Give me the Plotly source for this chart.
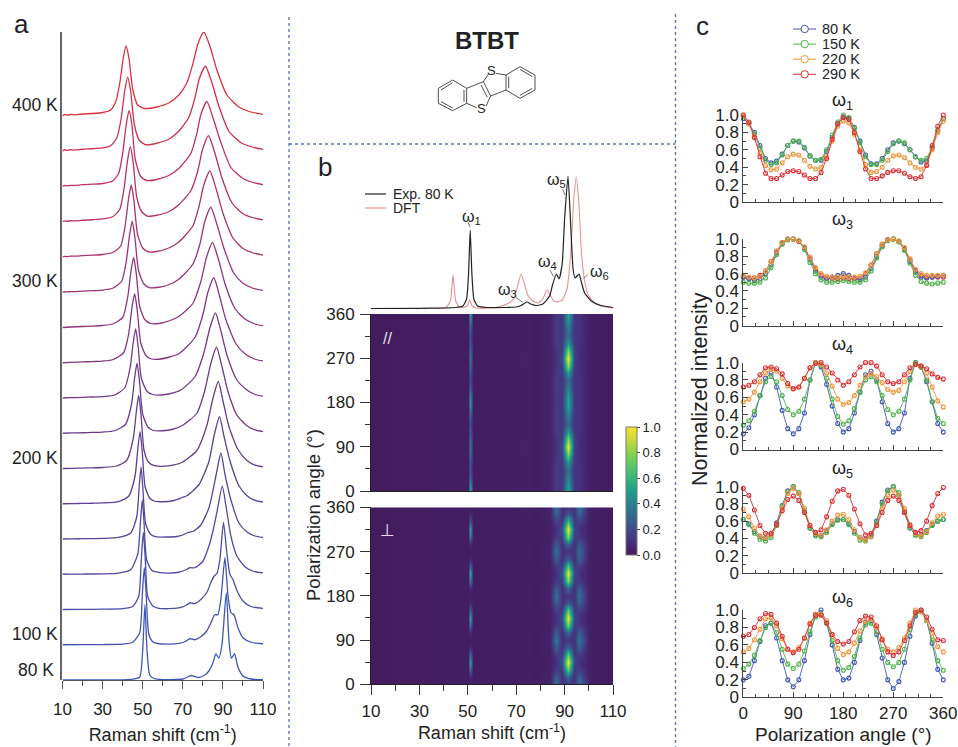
import plotly.graph_objects as go

W, H = 958, 747
FONT = "Liberation Sans"
INK = "#222222"

# ---------------- panel a: Raman spectra, temperature series (height above baseline) ----------------
TEMPS = [80, 100, 120, 140, 160, 180, 200, 220, 240, 260, 280, 300, 320, 340, 360, 380, 400]
OFFSET_STEP = 35.25
SPEC_X = {
 80: [10,20,30,40,45,48.5,50,51.1,52.2,53.5,55.5,60,66,70,72,74,76,78,81,83,85,86.5,88,89.5,91.7,93,94.2,95.8,97.5,100,104,110],
 100: [10,20,30,40,45,48.5,49.8,50.8,51.8,53,55,58,63,68,71,73.5,76,79,82,84,86,87.5,89,91,92.5,94,95.5,97.5,100,104,110],
 120: [10,20,30,40,45,48,49.3,50.3,51.3,52.5,55,58,63,68,71,73.5,76,79,82,84,85.5,87,88.5,90.3,92,93.5,95,97,100,104,110],
 140: [10,15,20,30,38,44,47.5,49,49.8,50.6,52,54.5,58,63,68,71,73.5,76,80,83,85,87,89.7,91.7,94,97,101,105,110],
 160: [10,15,20,30,38,44,47,48.4,49.2,50,51.5,54,57,62,67,70,72.5,75,79,83,85,87,89,91,94,98,102,106,110],
 180: [10,15,20,25,30,38,43,46.2,47.7,48.7,49.7,51.2,53.5,56,60,65,70,72,78,83,85.7,88.3,90.5,93.5,98,102,106,110],
 200: [10,15,20,25,30,37,42,45.3,46.9,48,49.1,50.7,53,56,60,65,70,77,82,85,87.7,90,93,97.5,102,106,110],
 220: [10,15,20,25,30,36,41.5,44.5,46,47.2,48.4,50,52.5,55,60,65,70,77,81,84,86.8,89.5,92.5,97,102,106,110],
 240: [10,14,20,25,30,36,41,43.7,45.3,46.5,47.7,49.3,52,55,59,64,69,76,80.5,83.5,86.3,89,92,97,102,106,110],
 260: [10,14,20,25,30,35,40.5,43,44.7,46,47.3,49,51.5,54,58,63,68,76,80,82.6,85.5,88.3,91.5,96.5,101,106,110],
 280: [10,14,20,25,30,35,40,42.5,44.2,45.5,46.8,48.5,51,54,58,63,68,75,79,81.8,84.8,87.8,91,96,101,106,110],
 300: [10,11,12,14,16,20,25,30,35,39.5,41.8,43.5,44.8,46.1,47.9,50.5,53.5,58,63,68,75,78.5,81,84,87,90.5,95.5,100,105,110],
 320: [10,11,12,14,16,20,25,30,35,39,41.3,43,44.3,45.6,47.4,50,53,57,63,68,75,78,80.5,83.5,86.5,90,95,100,105,110],
 340: [10,11,12,14,16,20,25,30,35,38.5,40.7,42.4,43.8,45.2,47,49.5,52.5,57,63,68,74,77.5,79.8,82.8,85.8,89.5,94.5,100,105,110],
 360: [10,11,12,14,16,20,25,30,35,38,40,41.8,43.2,44.6,46.3,49,52,57,63,68,74,77,79,82,85,89,94,100,105,110],
 380: [10,11,12,14,16,20,25,30,34,37,39.2,41,42.5,44,45.8,48.3,51.5,57,63,68,73,76,78.3,81.3,84.3,88,93,99,105,110],
 400: [10,11,12,14,16,20,25,30,34,36.5,38.5,40.3,41.7,43.2,45,47.5,51,57,63,68,72,75,77.5,80.5,83.5,87,92,98,104,110],
}
SPEC_Y = {
 80: [0,0,0,0.2,0.8,3,30,75,28,5,1.5,0.4,0.5,1,2.5,4.5,3.5,2.5,5,9,17,26,22,35,87,40,22,26,13,4,1,0.3],
 100: [0,0.1,0.2,0.6,2.5,12,50,77,48,11,3,1,0.7,1.3,3,6,5,8,14,22,30,30,46,87,50,32,30,17,7,2.5,1],
 120: [0,0.1,0.3,0.8,3,13,50,77,50,13,3.5,1.2,0.8,1.6,3.5,6.5,6,10,17,27,33,36,50,87,56,35,30,19,8.5,3,1.1],
 140: [0,0.1,0.2,0.4,1.2,4.5,20,56,74,54,14,4,1.8,1.2,2,4,6.5,6.5,13,28,43,62,88,66,38,18,7.5,3,1.3],
 160: [0,0.2,0.3,0.6,1.6,6,22,56,72,53,15,4.5,2.2,2,2.5,4,6.5,7.5,14,31,48,68,86,65,39,16,7,3,1.5],
 180: [0,0.2,0.3,0.5,0.8,2.2,7.5,28,58,72,54,17,5.5,2.5,2,3,6.5,8,19,42,69,87,68,43,18,8,3.3,1.7],
 200: [0,0.2,0.4,0.7,1,2.5,8,30,58,73,55,18,6,2.8,2.2,3.3,6.5,18,43,70,87,68,42,19,8,3.3,1.7],
 220: [0,0.3,0.5,0.8,1.2,2.5,9,30,56,70,52,19,6.5,3,2.5,4,8,20,43,70,86,67,42,18,7.5,3.3,1.7],
 240: [0,0.3,0.6,1,1.4,3,10,30,56,69,52,20,7,3.5,3,4.5,8,21,45,70,85,67,43,18,8,3.5,1.8],
 260: [0,0.3,0.8,1.2,1.7,3,10,29,56,69,52,20,7.5,4,3.5,5.5,9,25,48,71,85,67,43,19,9,3.5,1.8],
 280: [0,0.5,1,1.4,2,3.5,10,30,57,70,54,21,8,4,4,6.5,11,24,46,70,85,68,44,19,8.5,3.5,1.8],
 300: [0,0.5,0.3,0.7,0.6,1.2,1.6,2.2,4,11,31,58,71,55,22,8.5,4.5,5,7.5,13,28,48,71,85,68,44,19,9,4,1.8],
 320: [0,0.6,0.4,0.8,0.8,1.3,1.8,2.5,4.5,11,32,59,72,57,23,9,5,5.5,9,15,31,50,72,86,69,44,19,8.5,4,1.8],
 340: [0,0.8,0.5,1,0.8,1.5,2,2.8,5,12,33,61,75,60,25,10,5.5,6.5,10,17,31,51,72,86,70,44,19,8,4,1.8],
 360: [0,1,0.7,1.2,1,1.8,2.3,3,5.5,13,33,62,76,62,27,10,6,7,11,18,33,53,72,85,69,44,19,8,4,1.8],
 380: [0,1.5,0.8,1.5,1.2,2,2.5,3.3,5.5,13,32,60,74,60,27,11,6.5,8,12,20,34,53,73,85,70,45,20,8.5,4,1.8],
 400: [0,1.5,0.8,1.5,1.2,2,2.5,3.5,6,14,32,58,70,57,27,11,7.5,9,13,21,33,52,72,84,70,46,21,9,4,1.7],
}
SPEC_COLORS = ["#3c57b8","#4453b0","#4a4ea8","#4f4aa2","#55459b","#5c4095","#643c8e","#6d3a8a","#773886",
               "#833681","#8f357c","#9b3475","#a8336c","#b63263","#c4315a","#d12f4c","#de2f3c"]
TEMP_LABELS = ["80 K", "100 K", "200 K", "300 K", "400 K"]
TEMP_LABEL_PX = [(56, 670), (60, 634), (60, 458), (60, 281), (60, 105)]

# ---------------- panel b: spectra above the maps ----------------
EXP_X = [10,30,40,45,48,49.5,50.3,51,51.7,52.5,54,58,65,70,72,74.5,76,78.3,81,83.8,85,86.6,87.7,89,90,91.4,92.5,93.5,94.3,96,97,98.3,101,105,110]
EXP_Y = [0.5,0.7,1,1.5,3,10,35,79,35,10,3,1.5,1.5,2,3.5,7,5,3.5,5,13,24,35,30,45,90,132.7,85,40,31,35,26,16,8,3.5,1.5]
DFT_X = [10,30,38,41,42.8,43.9,45,46.5,48,49.8,50.8,51.8,53.5,59,64,67,69,70.5,72,73.5,75,77,79,81,82.7,84,85.5,87,89,91,92.5,93.8,94.8,95.8,97,98.5,100,103,106,110]
DFT_Y = [0,0.2,0.5,1.5,8,34,8,2,1.5,3,9,3,1,1,3,6,10,22,35,24,13,8,6,10,19,14,8,7,9,20,55,110,132,110,55,25,13,5,2.5,1]

# ---------------- panel b: polarization maps ----------------
MAP_X = [10,50,51,52,70,74,78,84,86.5,89,91.5,94,96,100,110]
MAP_ANGLES = [0,15,30,45,60,75,90,105,120,135,150,165,180,195,210,225,240,255,270,285,300,315,330,345,360]
MAP_PARALLEL = [
 [.01,.02,.55,.02,.02,.03,.02,.04,.14,.12,.55,.12,.11,.03,.01],
 [.01,.02,.45,.02,.02,.03,.02,.04,.14,.14,.48,.13,.11,.03,.01],
 [.01,.02,.28,.02,.02,.03,.02,.04,.15,.12,.38,.12,.11,.03,.01],
 [.01,.02,.22,.02,.02,.03,.02,.04,.15,.12,.35,.12,.11,.03,.01],
 [.01,.02,.27,.02,.02,.03,.02,.04,.14,.14,.50,.13,.10,.03,.01],
 [.01,.02,.34,.02,.02,.03,.02,.04,.12,.16,.80,.15,.10,.03,.01],
 [.01,.02,.38,.02,.02,.04,.02,.04,.10,.20,1.0,.18,.09,.03,.01],
 [.01,.02,.34,.02,.02,.03,.02,.04,.12,.16,.80,.15,.10,.03,.01],
 [.01,.02,.27,.02,.02,.03,.02,.04,.14,.14,.50,.13,.10,.03,.01],
 [.01,.02,.22,.02,.02,.03,.02,.04,.15,.12,.32,.12,.11,.03,.01],
 [.01,.02,.27,.02,.02,.03,.02,.04,.15,.12,.38,.12,.11,.03,.01],
 [.01,.02,.40,.02,.02,.03,.02,.04,.14,.13,.48,.13,.11,.03,.01],
 [.01,.02,.50,.02,.02,.03,.02,.04,.14,.13,.55,.13,.11,.03,.01],
 [.01,.02,.42,.02,.02,.03,.02,.04,.14,.13,.50,.13,.11,.03,.01],
 [.01,.02,.27,.02,.02,.03,.02,.04,.15,.12,.40,.12,.11,.03,.01],
 [.01,.02,.20,.02,.02,.03,.02,.04,.15,.12,.33,.12,.11,.03,.01],
 [.01,.02,.25,.02,.02,.03,.02,.04,.14,.14,.50,.13,.10,.03,.01],
 [.01,.02,.33,.02,.02,.03,.02,.04,.12,.16,.82,.15,.10,.03,.01],
 [.01,.02,.38,.02,.02,.04,.02,.04,.10,.20,1.0,.18,.09,.03,.01],
 [.01,.02,.33,.02,.02,.03,.02,.04,.12,.16,.80,.15,.10,.03,.01],
 [.01,.02,.26,.02,.02,.03,.02,.04,.14,.14,.50,.13,.10,.03,.01],
 [.01,.02,.22,.02,.02,.03,.02,.04,.15,.12,.34,.12,.11,.03,.01],
 [.01,.02,.28,.02,.02,.03,.02,.04,.15,.12,.38,.12,.11,.03,.01],
 [.01,.02,.42,.02,.02,.03,.02,.04,.14,.13,.48,.13,.11,.03,.01],
 [.01,.02,.55,.02,.02,.03,.02,.04,.14,.12,.55,.12,.11,.03,.01],
]
MAP_PERP = [
 [.01,.02,.02,.02,.02,.03,.02,.04,.35,.10,.13,.10,.35,.03,.01],
 [.01,.02,.08,.02,.02,.03,.02,.04,.28,.10,.30,.10,.28,.03,.01],
 [.01,.02,.35,.02,.02,.03,.02,.03,.15,.15,.75,.14,.15,.03,.01],
 [.01,.02,.55,.02,.02,.02,.02,.03,.10,.22,1.0,.20,.10,.03,.01],
 [.01,.02,.35,.02,.02,.03,.02,.03,.15,.15,.75,.14,.15,.03,.01],
 [.01,.02,.08,.02,.02,.03,.02,.04,.28,.10,.30,.10,.28,.03,.01],
 [.01,.02,.02,.02,.02,.03,.02,.04,.38,.10,.13,.10,.35,.03,.01],
 [.01,.02,.08,.02,.02,.03,.02,.04,.28,.10,.32,.10,.28,.03,.01],
 [.01,.02,.35,.02,.02,.03,.02,.03,.15,.15,.78,.14,.15,.03,.01],
 [.01,.02,.55,.02,.02,.02,.02,.03,.10,.22,1.0,.20,.10,.03,.01],
 [.01,.02,.32,.02,.02,.03,.02,.03,.16,.14,.72,.14,.16,.03,.01],
 [.01,.02,.07,.02,.02,.03,.02,.04,.28,.10,.28,.10,.28,.03,.01],
 [.01,.02,.02,.02,.02,.03,.02,.04,.35,.10,.12,.10,.33,.03,.01],
 [.01,.02,.08,.02,.02,.03,.02,.04,.27,.10,.30,.10,.27,.03,.01],
 [.01,.02,.38,.02,.02,.03,.02,.03,.15,.15,.78,.14,.15,.03,.01],
 [.01,.02,.58,.02,.02,.02,.02,.03,.10,.22,1.0,.20,.10,.03,.01],
 [.01,.02,.30,.02,.02,.03,.02,.03,.16,.14,.70,.14,.16,.03,.01],
 [.01,.02,.07,.02,.02,.03,.02,.04,.28,.10,.27,.10,.28,.03,.01],
 [.01,.02,.02,.02,.02,.03,.02,.04,.36,.10,.12,.10,.32,.03,.01],
 [.01,.02,.08,.02,.02,.03,.02,.04,.27,.10,.30,.10,.27,.03,.01],
 [.01,.02,.38,.02,.02,.03,.02,.03,.15,.15,.78,.14,.15,.03,.01],
 [.01,.02,.55,.02,.02,.02,.02,.03,.10,.22,1.0,.20,.10,.03,.01],
 [.01,.02,.30,.02,.02,.03,.02,.03,.16,.14,.68,.14,.16,.03,.01],
 [.01,.02,.07,.02,.02,.03,.02,.04,.28,.10,.27,.10,.28,.03,.01],
 [.01,.02,.02,.02,.02,.03,.02,.04,.35,.10,.13,.10,.35,.03,.01],
]
MAP_COLORS = [[0,"#431a5c"],[0.1,"#472f7d"],[0.2,"#3e4a89"],[0.3,"#31688e"],[0.4,"#26828e"],
              [0.5,"#1f9e89"],[0.6,"#35b779"],[0.75,"#6ece58"],[0.9,"#c8d83a"],[1,"#f5e52e"]]

# ---------------- panel c: normalized intensity versus polarization angle ----------------
ANGLES = [0,10,20,30,40,50,60,70,80,90,100,110,120,130,140,150,160,170,180,190,200,210,220,230,240,250,260,270,280,290,300,310,320,330,340,350,360]
SERIES = ["80 K", "150 K", "220 K", "290 K"]
SERIES_COLORS = ["#4358b4", "#4fb24a", "#f0963c", "#dc2f36"]
W1 = [
 [.96,.90,.80,.65,.50,.45,.47,.55,.65,.70,.69,.62,.53,.48,.48,.58,.74,.90,.98,.96,.86,.70,.54,.44,.44,.50,.60,.68,.70,.67,.60,.52,.46,.47,.62,.82,.96],
 [.98,.91,.78,.62,.48,.43,.45,.54,.65,.70,.70,.63,.53,.48,.49,.60,.77,.92,1.0,.97,.85,.68,.52,.43,.43,.48,.58,.67,.70,.68,.60,.52,.48,.50,.63,.82,.96],
 [1.0,.90,.75,.56,.42,.37,.38,.45,.52,.55,.54,.48,.41,.38,.40,.52,.70,.87,.93,.91,.78,.60,.43,.34,.35,.40,.48,.53,.54,.51,.45,.40,.38,.43,.60,.80,.93],
 [1.0,.92,.74,.52,.33,.27,.27,.31,.35,.36,.35,.31,.27,.27,.34,.50,.72,.90,.97,.95,.80,.58,.38,.27,.27,.30,.34,.36,.36,.33,.29,.27,.29,.42,.65,.87,1.0],
]
W3 = [
 [.56,.54,.52,.54,.60,.70,.84,.95,1.0,1.0,.98,.90,.76,.63,.56,.54,.56,.58,.60,.58,.55,.53,.56,.66,.80,.92,.99,1.0,.97,.88,.74,.62,.56,.55,.56,.57,.58],
 [.50,.49,.49,.50,.55,.67,.82,.94,.99,1.0,.98,.88,.73,.60,.53,.50,.50,.51,.52,.51,.50,.50,.53,.63,.78,.91,.98,1.0,.97,.87,.72,.58,.51,.49,.48,.49,.50],
 [.58,.56,.55,.57,.63,.74,.86,.96,1.0,1.0,.98,.91,.79,.67,.60,.57,.56,.56,.57,.56,.56,.57,.61,.70,.83,.94,.99,1.0,.98,.90,.77,.65,.60,.58,.58,.58,.58],
 [.56,.55,.55,.58,.63,.74,.86,.96,1.0,1.0,.97,.90,.78,.66,.58,.55,.54,.54,.55,.54,.54,.55,.60,.70,.83,.94,.99,1.0,.97,.89,.76,.64,.58,.56,.56,.56,.56],
]
W4 = [
 [.18,.25,.40,.62,.82,.88,.72,.45,.24,.18,.24,.42,.80,1.0,.95,.75,.50,.30,.20,.24,.42,.66,.86,.90,.80,.55,.30,.20,.24,.42,.82,1.0,.95,.78,.55,.30,.20],
 [.28,.33,.44,.62,.78,.84,.78,.62,.46,.40,.44,.58,.80,1.0,.97,.82,.58,.38,.29,.33,.47,.66,.80,.84,.78,.62,.46,.40,.44,.58,.80,1.0,.95,.80,.55,.36,.30],
 [.55,.58,.66,.78,.88,.92,.90,.82,.73,.70,.72,.82,.94,1.0,.98,.88,.73,.58,.52,.54,.62,.74,.84,.87,.84,.77,.69,.66,.68,.78,.90,.98,.96,.88,.72,.56,.49],
 [.72,.74,.78,.86,.94,.95,.93,.87,.76,.70,.72,.82,.94,.99,1.0,.95,.88,.80,.74,.78,.86,.95,1.0,1.0,.96,.86,.78,.76,.78,.86,.94,.98,.96,.93,.87,.83,.81],
]
W5 = [
 [.62,.57,.48,.42,.40,.44,.58,.78,.95,1.0,.92,.72,.52,.44,.43,.49,.57,.62,.62,.57,.48,.41,.39,.44,.60,.82,.96,1.0,.90,.70,.52,.44,.44,.49,.56,.60,.62],
 [.62,.56,.46,.39,.37,.41,.55,.77,.94,1.0,.93,.72,.52,.43,.42,.47,.56,.61,.62,.56,.46,.38,.37,.42,.58,.80,.95,1.0,.93,.72,.53,.44,.42,.47,.55,.60,.62],
 [.74,.65,.52,.43,.41,.44,.56,.75,.92,.98,.92,.75,.55,.46,.44,.50,.60,.67,.68,.62,.50,.41,.38,.42,.55,.75,.90,.96,.90,.75,.56,.46,.43,.48,.58,.66,.68],
 [.98,.90,.73,.55,.46,.46,.56,.72,.85,.89,.84,.70,.55,.47,.50,.65,.83,.95,.97,.90,.74,.57,.44,.46,.55,.70,.84,.89,.84,.70,.55,.47,.49,.60,.78,.92,.99],
]
W6 = [
 [.20,.24,.42,.64,.82,.85,.68,.42,.20,.12,.20,.42,.72,.95,1.0,.85,.60,.32,.20,.22,.40,.65,.86,.88,.72,.45,.20,.10,.18,.40,.70,.93,1.0,.88,.62,.32,.20],
 [.33,.38,.48,.65,.80,.85,.74,.55,.38,.33,.38,.53,.75,.92,.95,.85,.65,.42,.31,.34,.47,.68,.83,.85,.76,.55,.40,.35,.40,.55,.78,.95,.98,.88,.66,.42,.31],
 [.52,.56,.66,.78,.90,.91,.82,.67,.55,.52,.57,.68,.85,.95,.95,.88,.72,.56,.49,.52,.62,.76,.87,.89,.80,.67,.55,.52,.57,.68,.85,1.0,.98,.88,.73,.58,.52],
 [.70,.72,.80,.90,.96,.95,.85,.70,.55,.51,.55,.68,.84,.94,.94,.85,.72,.64,.61,.64,.75,.88,.93,.92,.82,.66,.52,.48,.52,.65,.82,.97,1.0,.92,.78,.66,.65],
]
MODE_NAMES = ["ω<sub>1</sub>", "ω<sub>3</sub>", "ω<sub>4</sub>", "ω<sub>5</sub>", "ω<sub>6</sub>"]
MODE_DATA = [W1, W3, W4, W5, W6]
DRAW_ORDER = [[0,1,2,3], [3,0,1,2], [0,1,2,3], [0,1,2,3], [0,1,2,3]]
ANGLE_TICKS = [0, 90, 180, 270, 360]
INT_TICKS = [0, 0.2, 0.4, 0.6, 0.8, 1.0]
INT_TICK_TEXT = ["0", "0.2", "0.4", "0.6", "0.8", "1.0"]
RAMAN_TICKS = [10, 30, 50, 70, 90, 110]
RAMAN_TITLE = "Raman shift (cm<sup>-1</sup>)"
ANGLE_TITLE = "Polarization angle (°)"


def xdom(a, b):
    return [a / W, b / W]


def ydom(top, bottom):
    return [1 - bottom / H, 1 - top / H]


fig = go.Figure()

# panel a
for i, t in enumerate(TEMPS):
    off = i * OFFSET_STEP
    fig.add_trace(go.Scatter(x=SPEC_X[t], y=[v + off for v in SPEC_Y[t]], mode="lines", name=f"{t} K",
                             line=dict(color=SPEC_COLORS[i], width=1.3, shape="spline", smoothing=0.6),
                             xaxis="x", yaxis="y", showlegend=False, cliponaxis=False))
# panel b spectra
fig.add_trace(go.Scatter(x=DFT_X, y=DFT_Y, mode="lines", name="DFT", showlegend=False, xaxis="x2", yaxis="y2",
                         line=dict(color="#ea8f90", width=1.1, shape="spline", smoothing=0.5)))
fig.add_trace(go.Scatter(x=EXP_X, y=EXP_Y, mode="lines", name="Exp. 80 K", showlegend=False, xaxis="x2", yaxis="y2",
                         line=dict(color="#222222", width=1.2, shape="spline", smoothing=0.5)))
# panel b maps
fig.add_trace(go.Heatmap(x=MAP_X, y=MAP_ANGLES, z=MAP_PARALLEL, zmin=0, zmax=1, zsmooth="best", colorscale=MAP_COLORS,
                         xaxis="x3", yaxis="y3",
                         colorbar=dict(lenmode="pixels", len=128, thicknessmode="pixels", thickness=11,
                                       x=626 / W, xanchor="left", xpad=0, y=1 - 427 / H, yanchor="top", ypad=0,
                                       outlinecolor="#777777", outlinewidth=1, ticks="outside", ticklen=3,
                                       tickcolor="#444444", dtick=0.2, tick0=0, tickformat=".1f",
                                       tickfont=dict(family=FONT, size=13, color=INK))))
fig.add_trace(go.Heatmap(x=MAP_X, y=MAP_ANGLES, z=MAP_PERP, zmin=0, zmax=1, zsmooth="best", colorscale=MAP_COLORS,
                         xaxis="x4", yaxis="y4", showscale=False))
# panel c
for m, data in enumerate(MODE_DATA):
    for s in DRAW_ORDER[m]:
        fig.add_trace(go.Scatter(x=ANGLES, y=data[s], mode="lines+markers", name=SERIES[s], showlegend=False,
                                 line=dict(color=SERIES_COLORS[s], width=0.9),
                                 marker=dict(symbol="circle-open", size=4, color=SERIES_COLORS[s], line=dict(width=1.1, color=SERIES_COLORS[s])),
                                 cliponaxis=False, xaxis=f"x{5 + m}", yaxis=f"y{5 + m}"))

TICKF = dict(family=FONT, size=17, color=INK)
layout = dict(
    width=W, height=H, margin=dict(l=0, r=0, t=0, b=0, autoexpand=False), paper_bgcolor="white", plot_bgcolor="white",
    font=dict(family=FONT, color=INK), showlegend=False,
    # a
    xaxis=dict(domain=xdom(62.5, 263), range=[10, 110], tickvals=RAMAN_TICKS, ticks="outside", ticklen=8, tickcolor="#555555",
               minor=dict(dtick=10, tick0=10, ticks="outside", ticklen=5, tickcolor="#555555"),
               showgrid=False, zeroline=False, showline=True, linecolor="#555555", linewidth=1, tickfont=TICKF,
               ticklabelstandoff=6, title=dict(text=RAMAN_TITLE, font=dict(family=FONT, size=18, color=INK), standoff=9), anchor="y"),
    yaxis=dict(domain=ydom(32, 680), range=[0, 648], visible=True, showticklabels=False, ticks="", showgrid=False, zeroline=False,
               showline=True, linecolor="#666666", linewidth=1.5, anchor="free", position=61 / W),
    # b spectra
    xaxis2=dict(domain=xdom(371, 613), range=[10, 110], visible=False, anchor="y2"),
    yaxis2=dict(domain=ydom(172, 309), range=[0, 137], visible=False, anchor="x2"),
    # b maps
    xaxis3=dict(domain=xdom(371, 613), range=[10, 110], showticklabels=False, ticks="", showgrid=False, zeroline=False,
                showline=True, linecolor="#222222", linewidth=1, anchor="y3"),
    yaxis3=dict(domain=ydom(314, 491), range=[0, 360], tickvals=[0, 90, 180, 270, 360], ticks="outside", ticklen=10, tickcolor="#333333",
                minor=dict(dtick=45, tick0=0, ticks="outside", ticklen=5, tickcolor="#333333"),
                showgrid=False, zeroline=False, showline=True, linecolor="#222222", linewidth=1,
                tickfont=dict(family=FONT, size=17, color=INK), ticklabelstandoff=2, anchor="x3"),
    xaxis4=dict(domain=xdom(371, 613), range=[10, 110], tickvals=RAMAN_TICKS, ticks="outside", ticklen=10, tickcolor="#333333",
                minor=dict(dtick=10, tick0=10, ticks="outside", ticklen=6, tickcolor="#333333"),
                showgrid=False, zeroline=False, showline=True, linecolor="#222222", linewidth=1,
                tickfont=dict(family=FONT, size=17, color=INK), ticklabelstandoff=1,
                title=dict(text=RAMAN_TITLE, font=dict(family=FONT, size=18, color=INK), standoff=6), anchor="y4"),
    yaxis4=dict(domain=ydom(507.3, 684.3), range=[0, 360], tickvals=[0, 90, 180, 270, 360], ticks="outside", ticklen=10, tickcolor="#333333",
                minor=dict(dtick=45, tick0=0, ticks="outside", ticklen=5, tickcolor="#333333"),
                showgrid=False, zeroline=False, showline=True, linecolor="#222222", linewidth=1,
                tickfont=dict(family=FONT, size=17, color=INK), ticklabelstandoff=2, anchor="x4"),
)
ZERO_PX = [202, 325.6, 449.5, 573, 697.3]
TOP_PX = [115, 239, 362.6, 486.6, 610]
for m in range(5):
    last = m == 4
    xax = dict(domain=xdom(743.3, 943.3), range=[0, 360], tickvals=ANGLE_TICKS, showticklabels=last, ticks="inside", ticklen=5,
               tickcolor="#444444", minor=dict(dtick=22.5, tick0=0, ticks="inside", ticklen=3, tickcolor="#444444"),
               showgrid=False, zeroline=False, showline=True, linecolor="#444444", linewidth=1,
               tickfont=dict(family=FONT, size=17, color=INK), anchor=f"y{5 + m}")
    if last:
        xax["title"] = dict(text=ANGLE_TITLE, font=dict(family=FONT, size=19, color=INK), standoff=5)
    layout[f"xaxis{5 + m}"] = xax
    layout[f"yaxis{5 + m}"] = dict(domain=ydom(TOP_PX[m], ZERO_PX[m]), range=[0, 1], tickvals=INT_TICKS, ticktext=INT_TICK_TEXT,
                                   ticks="inside", ticklen=5, tickcolor="#444444",
                                   minor=dict(dtick=0.1, tick0=0, ticks="inside", ticklen=3, tickcolor="#444444"),
                                   showgrid=False, zeroline=False, showline=True, linecolor="#444444", linewidth=1,
                                   tickfont=dict(family=FONT, size=17, color=INK), anchor=f"x{5 + m}")

ann = []


def note(px, py, text, size=16, xa="center", family=FONT, color=INK, angle=0, bold=False):
    if bold:
        text = f"<b>{text}</b>"
    ann.append(dict(xref="paper", yref="paper", x=px / W, y=1 - py / H, text=text, showarrow=False, xanchor=xa, yanchor="middle",
                    align="center", textangle=angle, font=dict(family=family, size=size, color=color)))


note(21.5, 24, "a", 26)
note(325, 167, "b", 26)
note(702, 26, "c", 26)
for lab, (px, py) in zip(TEMP_LABELS, TEMP_LABEL_PX):
    note(px, py, lab, 17.5, xa="right")
note(486.5, 40, "BTBT", 24, bold=True)
note(491.5, 70, "S", 13)
note(481.7, 108, "S", 13)
note(390.5, 194, "Exp. 80 K", 14, xa="left")
note(390.5, 208, "DFT", 14, xa="left")
for lab, (px, py) in zip(["ω<sub>1</sub>", "ω<sub>3</sub>", "ω<sub>4</sub>", "ω<sub>5</sub>", "ω<sub>6</sub>"],
                         [(471, 217), (507, 291), (547, 263), (556, 180), (599, 272)]):
    note(px, py, lab, 16)
note(387, 338, "//", 16, color="#e8e0ee", family="Liberation Sans")
note(387, 530, "⊥", 17, color="#e8e0ee", family="DejaVu Sans")
note(313, 515, ANGLE_TITLE, 18.5, angle=-90)
note(700, 389, "Normalized intensity", 21.5, angle=-90)
for m, name in enumerate(MODE_NAMES):
    note(842, [101, 220, 345, 469, 598][m], name, 18)
for s, name in enumerate(SERIES):
    note(819.5, 29 + 15.1 * s, name, 14.5, xa="left")

shapes = []


def seg(x0, y0, x1, y1, color="#333333", width=1, dash=None):
    ln = dict(color=color, width=width)
    if dash:
        ln["dash"] = dash
    shapes.append(dict(type="line", xref="paper", yref="paper", x0=x0 / W, y0=1 - y0 / H, x1=x1 / W, y1=1 - y1 / H, line=ln))


# dividers
DIV = "#5a6fb8"
seg(289, 17, 289, 747, DIV, 1.3, "dot")
seg(675.5, 14, 675.5, 747, DIV, 1.3, "dot")
seg(289, 144, 675.5, 144, DIV, 1.3, "dot")


# molecule (zoomed coordinates of the drawing relative to its crop)
def mol(x0, y0, x1, y1):
    seg(400 + x0 / 3, 20 + y0 / 3, 400 + x1 / 3, 20 + y1 / 3, "#3a3a3a", 0.9)


for a, b, c, d in [(115,205,158,180),(158,180,200,205),(200,205,200,250),(200,250,158,272),(158,272,115,250),(115,250,115,205),
                   (123,210,158,188),(192,210,192,245),(158,264,123,245),
                   (318,165,360,140),(360,140,405,165),(405,165,405,210),(405,210,360,235),(360,235,318,210),(318,210,318,165),
                   (326,170,326,205),(360,148,397,170),(397,205,360,226),
                   (200,205,250,185),(250,185,272,228),(243,195,262,232),(272,228,318,210),
                   (250,185,265,163),(288,160,318,165),(200,250,230,263),(258,258,272,228)]:
    mol(a, b, c, d)

# legend keys of panel b
seg(365, 194, 386, 194, "#222222", 1.2)
seg(365, 208, 386, 208, "#ea8f90", 1.2)
# leader lines of panel b
for a, b, c, d in [(468, 222, 470, 227), (516, 297.5, 523, 302.5), (550, 270, 553.5, 276.7), (562.7, 189.3, 565, 195), (583.3, 278.3, 587.7, 275)]:
    seg(a, b, c, d, "#555555", 0.8)
# legend keys of panel c
for s, col in enumerate(SERIES_COLORS):
    yy = 29 + 15.1 * s
    seg(793, yy, 816, yy, col, 1)
    shapes.append(dict(type="circle", xref="paper", yref="paper", x0=801 / W, x1=808.4 / W, y0=1 - (yy + 3.7) / H, y1=1 - (yy - 3.7) / H,
                       line=dict(color=col, width=1), fillcolor="white"))

layout["annotations"] = ann
layout["shapes"] = shapes
fig.update_layout(**layout)
fig.write_html("out.html", config={"displayModeBar": False},
               post_script="document.body.style.margin='0';document.body.style.overflow='hidden';")
